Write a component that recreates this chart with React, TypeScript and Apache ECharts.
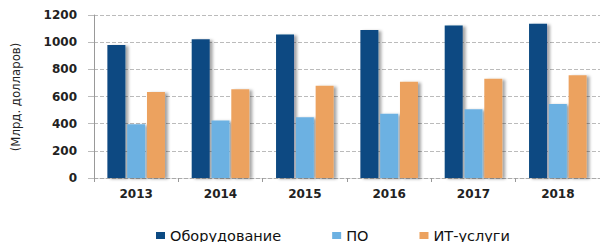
import React, { useEffect, useRef } from "react";
import * as echarts from "echarts";

const categories = ["2013", "2014", "2015", "2016", "2017", "2018"];
const hardware = [980, 1022, 1056, 1090, 1122, 1135];
const software = [395, 424, 448, 473, 507, 544];
const itServices = [634, 654, 679, 708, 731, 757];
const seriesNames = ["Оборудование", "ПО", "ИТ-услуги"];
const yAxisTitle = "(Млрд. долларов)";

const colors = ["#0c4a82", "#6cb1e2", "#eca25f"];

export default function App() {
  const ref = useRef<HTMLDivElement>(null);
  useEffect(() => {
    document.body.style.margin = "0";
    const chart = echarts.init(ref.current!, null, { renderer: "svg" });
    const barStyle = (c: string) => ({
      color: c,
      shadowColor: "rgba(0,0,0,0.35)",
      shadowBlur: 3,
      shadowOffsetX: 3,
      shadowOffsetY: 1,
    });
    const mk = (name: string, data: number[], c: string) => ({
      name,
      type: "bar",
      data,
      barWidth: 18,
      barGap: "10%",
      itemStyle: barStyle(c),
    });
    chart.setOption({
      animation: false,
      backgroundColor: "#ffffff",
      grid: { left: 94, right: 0, top: 15, bottom: 64 },
      legend: {
        top: 228,
        left: 156,
        itemWidth: 9,
        itemHeight: 7,
        itemGap: 51,
        padding: 0,
        icon: "rect",
        textStyle: { fontFamily: "DejaVu Sans", fontSize: 14.5, color: "#111", lineHeight: 14 },
        data: seriesNames,
      },
      xAxis: {
        type: "category",
        data: categories,
        axisLine: { lineStyle: { color: "#aaa", type: "dashed" } },
        axisTick: { show: true, length: 4, lineStyle: { color: "#999" } },
        axisLabel: {
          margin: 10,
          fontFamily: "DejaVu Sans",
          fontWeight: "bold",
          fontSize: 12,
          color: "#222",
        },
      },
      yAxis: {
        type: "value",
        min: 0,
        max: 1200,
        interval: 200,
        axisLine: { show: true, lineStyle: { color: "#999" } },
        axisTick: { show: true, length: 6, lineStyle: { color: "#bbb" } },
        splitLine: { lineStyle: { color: "#bbb", type: "dashed" } },
        axisLabel: {
          margin: 17,
          fontFamily: "DejaVu Sans",
          fontWeight: "bold",
          fontSize: 12,
          color: "#222",
          formatter: (v: number) => String(v),
        },
      },
      graphic: [
        {
          type: "text",
          x: 15,
          y: 97,
          rotation: Math.PI / 2,
          style: {
            text: yAxisTitle,
            fontFamily: "'Liberation Sans Narrow', 'DejaVu Sans Condensed', sans-serif",
            fontSize: 13,
            fill: "#222",
            align: "center",
            verticalAlign: "middle",
          },
        },
      ],
      series: [
        mk(seriesNames[0], hardware, colors[0]),
        mk(seriesNames[1], software, colors[1]),
        mk(seriesNames[2], itServices, colors[2]),
      ],
    });
    return () => chart.dispose();
  }, []);
  return <div ref={ref} style={{ width: 600, height: 242 }} />;
}
